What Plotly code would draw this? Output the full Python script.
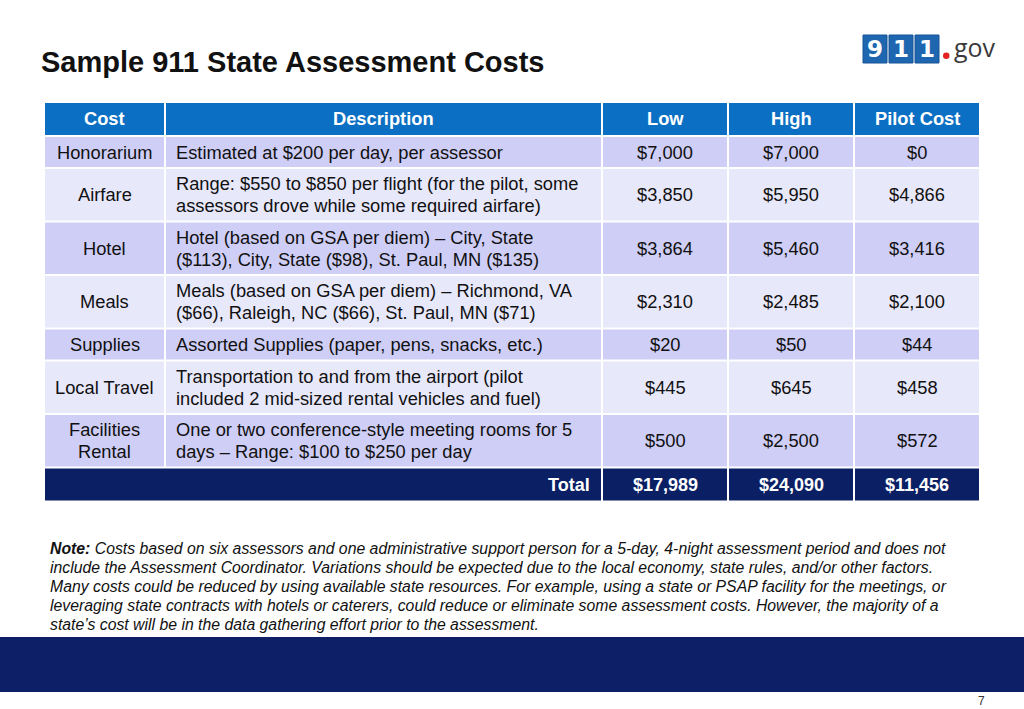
import plotly.graph_objects as go

# ---------------- data ----------------
title_text = "Sample 911 State Assessment Costs"
header_labels = ["Cost", "Description", "Low", "High", "Pilot Cost"]
cost_items = ["Honorarium", "Airfare", "Hotel", "Meals", "Supplies", "Local Travel", "Facilities<br>Rental"]
descriptions = [
    "Estimated at $200 per day, per assessor",
    "Range: $550 to $850 per flight (for the pilot, some<br>assessors drove while some required airfare)",
    "Hotel (based on GSA per diem) \u2013 City, State<br>($113), City, State ($98), St. Paul, MN ($135)",
    "Meals (based on GSA per diem) \u2013 Richmond, VA<br>($66), Raleigh, NC ($66), St. Paul, MN ($71)",
    "Assorted Supplies (paper, pens, snacks, etc.)",
    "Transportation to and from the airport (pilot<br>included 2 mid-sized rental vehicles and fuel)",
    "One or two conference-style meeting rooms for 5<br>days \u2013 Range: $100 to $250 per day",
]
low_costs = [7000, 3850, 3864, 2310, 20, 445, 500]
high_costs = [7000, 5950, 5460, 2485, 50, 645, 2500]
pilot_costs = [0, 4866, 3416, 2100, 44, 458, 572]
total_label = "Total"
note_lines = [
    "Costs based on six assessors and one administrative support person for a 5-day, 4-night assessment period and does not",
    "include the Assessment Coordinator. Variations should be expected due to the local economy, state rules, and/or other factors.",
    "Many costs could be reduced by using available state resources. For example, using a state or PSAP facility for the meetings, or",
    "leveraging state contracts with hotels or caterers, could reduce or eliminate some assessment costs. However, the majority of a",
    "state\u2019s cost will be in the data gathering effort prior to the assessment.",
]
page_number = "7"

# ---------------- styling / layout ----------------
W, H = 1024, 709
FONT = "Liberation Sans, Arial, sans-serif"
col_edges = [44, 165, 602, 728, 854, 980]
HEADER_BLUE = "#0B6FC3"
DARK_ROW = "#CFCEF7"
LIGHT_ROW = "#E8E8FB"
NAVY = "#0B1F64"
TEXT = "#111111"
GAP = 2
BODY = 18.3
LINE = 22

fig = go.Figure()
fig.add_trace(go.Scatter(x=[0, W], y=[0, H], mode="markers", marker=dict(opacity=0), hoverinfo="skip", showlegend=False))

shapes, annots = [], []

def cell(x0, x1, y0, y1, color):
    shapes.append(dict(type="rect", xref="x", yref="y", x0=x0 + 1, x1=x1 - 1, y0=y0, y1=y1,
                       fillcolor=color, line=dict(width=0), layer="below"))

def text(x, y, s, size=BODY, color=TEXT, bold=False, anchor="center"):
    parts = s.split("<br>")
    n = len(parts)
    for k, p in enumerate(parts):
        if bold:
            p = "<b>" + p + "</b>"
        annots.append(dict(x=x, y=y + (k - (n - 1) / 2) * LINE, xref="x", yref="y", text=p, showarrow=False,
                           xanchor=anchor, yanchor="middle",
                           font=dict(family=FONT, size=size, color=color)))

def money(v):
    return "${:,}".format(v)

# header
y = 103.0
hh = 32
for i, lab in enumerate(header_labels):
    cell(col_edges[i], col_edges[i + 1], y, y + hh, HEADER_BLUE)
    text((col_edges[i] + col_edges[i + 1]) / 2, y + hh / 2 - 1, lab, bold=True, color="white")
y += hh + GAP

# body rows
for r, (c, d, lo, hi, pi) in enumerate(zip(cost_items, descriptions, low_costs, high_costs, pilot_costs)):
    lines = max(c.count("<br>"), d.count("<br>")) + 1
    rh = 30 if lines == 1 else 51.5
    color = DARK_ROW if r % 2 == 0 else LIGHT_ROW
    for i in range(5):
        cell(col_edges[i], col_edges[i + 1], y, y + rh, color)
    yc = y + rh / 2
    text((col_edges[0] + col_edges[1]) / 2, yc, c)
    text(col_edges[1] + 9, yc, d, anchor="left")
    for i, v in zip([2, 3, 4], [lo, hi, pi]):
        text((col_edges[i] + col_edges[i + 1]) / 2, yc, money(v))
    y += rh + GAP

# total row
th = 32
cell(col_edges[0], col_edges[2], y, y + th, NAVY)
for i in [2, 3, 4]:
    cell(col_edges[i], col_edges[i + 1], y, y + th, NAVY)
text(col_edges[2] - 10, y + th / 2, total_label, size=18, bold=True, color="white", anchor="right")
for i, vals in zip([2, 3, 4], [low_costs, high_costs, pilot_costs]):
    text((col_edges[i] + col_edges[i + 1]) / 2, y + th / 2, money(sum(vals)), size=18, bold=True, color="white")

# title
annots.append(dict(x=39, y=62, xref="x", yref="y", text="<b>" + title_text + "</b>", showarrow=False,
                   xanchor="left", yanchor="middle", font=dict(family=FONT, size=29, color="#111111")))

# note
for k, line in enumerate(note_lines):
    s = "<i>" + line + "</i>"
    if k == 0:
        s = "<b><i>Note:</i></b> " + s
    annots.append(dict(x=48, y=548 + k * 19, xref="x", yref="y", text=s, showarrow=False,
                       xanchor="left", yanchor="middle", font=dict(family=FONT, size=15.8, color="#111111")))

# bottom band
shapes.append(dict(type="rect", xref="x", yref="y", x0=0, x1=W, y0=637, y1=692,
                   fillcolor="#0D1F66", line=dict(width=0), layer="below"))
annots.append(dict(x=981, y=701, xref="x", yref="y", text=page_number, showarrow=False,
                   xanchor="center", yanchor="middle", font=dict(family=FONT, size=12, color="#333333")))

# logo 911.gov
logo_digits = ["9", "1", "1"]
for k, dgt in enumerate(logo_digits):
    x0 = 863 + k * 26
    shapes.append(dict(type="rect", xref="x", yref="y", x0=x0, x1=x0 + 24, y0=35, y1=63,
                       fillcolor="#1F66B0", line=dict(color="#175496", width=1)))
    annots.append(dict(x=x0 + 12, y=49, xref="x", yref="y", text="<b>" + dgt + "</b>", showarrow=False,
                       xanchor="center", yanchor="middle", font=dict(family="DejaVu Sans, sans-serif", size=23, color="white")))
shapes.append(dict(type="circle", xref="x", yref="y", x0=943, x1=949.5, y0=52.5, y1=59,
                   fillcolor="#E52222", line=dict(width=0)))
annots.append(dict(x=952, y=47, xref="x", yref="y", text="gov", showarrow=False,
                   xanchor="left", yanchor="middle", font=dict(family="Open Sans, sans-serif", size=25, color="#3A3A3A")))

fig.update_layout(
    width=W, height=H, margin=dict(l=0, r=0, t=0, b=0),
    paper_bgcolor="white", plot_bgcolor="white",
    xaxis=dict(range=[0, W], visible=False, fixedrange=True),
    yaxis=dict(range=[H, 0], visible=False, fixedrange=True),
    shapes=shapes, annotations=annots, showlegend=False,
)
fig.write_html("out.html", config={"displayModeBar": False})

# remove default page margins so the 1024x709 figure fills the window exactly
with open("out.html", "r", encoding="utf-8") as f:
    html = f.read()
html = html.replace("<head>", "<head><style>html,body{margin:0;padding:0;overflow:hidden;}</style>", 1)
with open("out.html", "w", encoding="utf-8") as f:
    f.write(html)
